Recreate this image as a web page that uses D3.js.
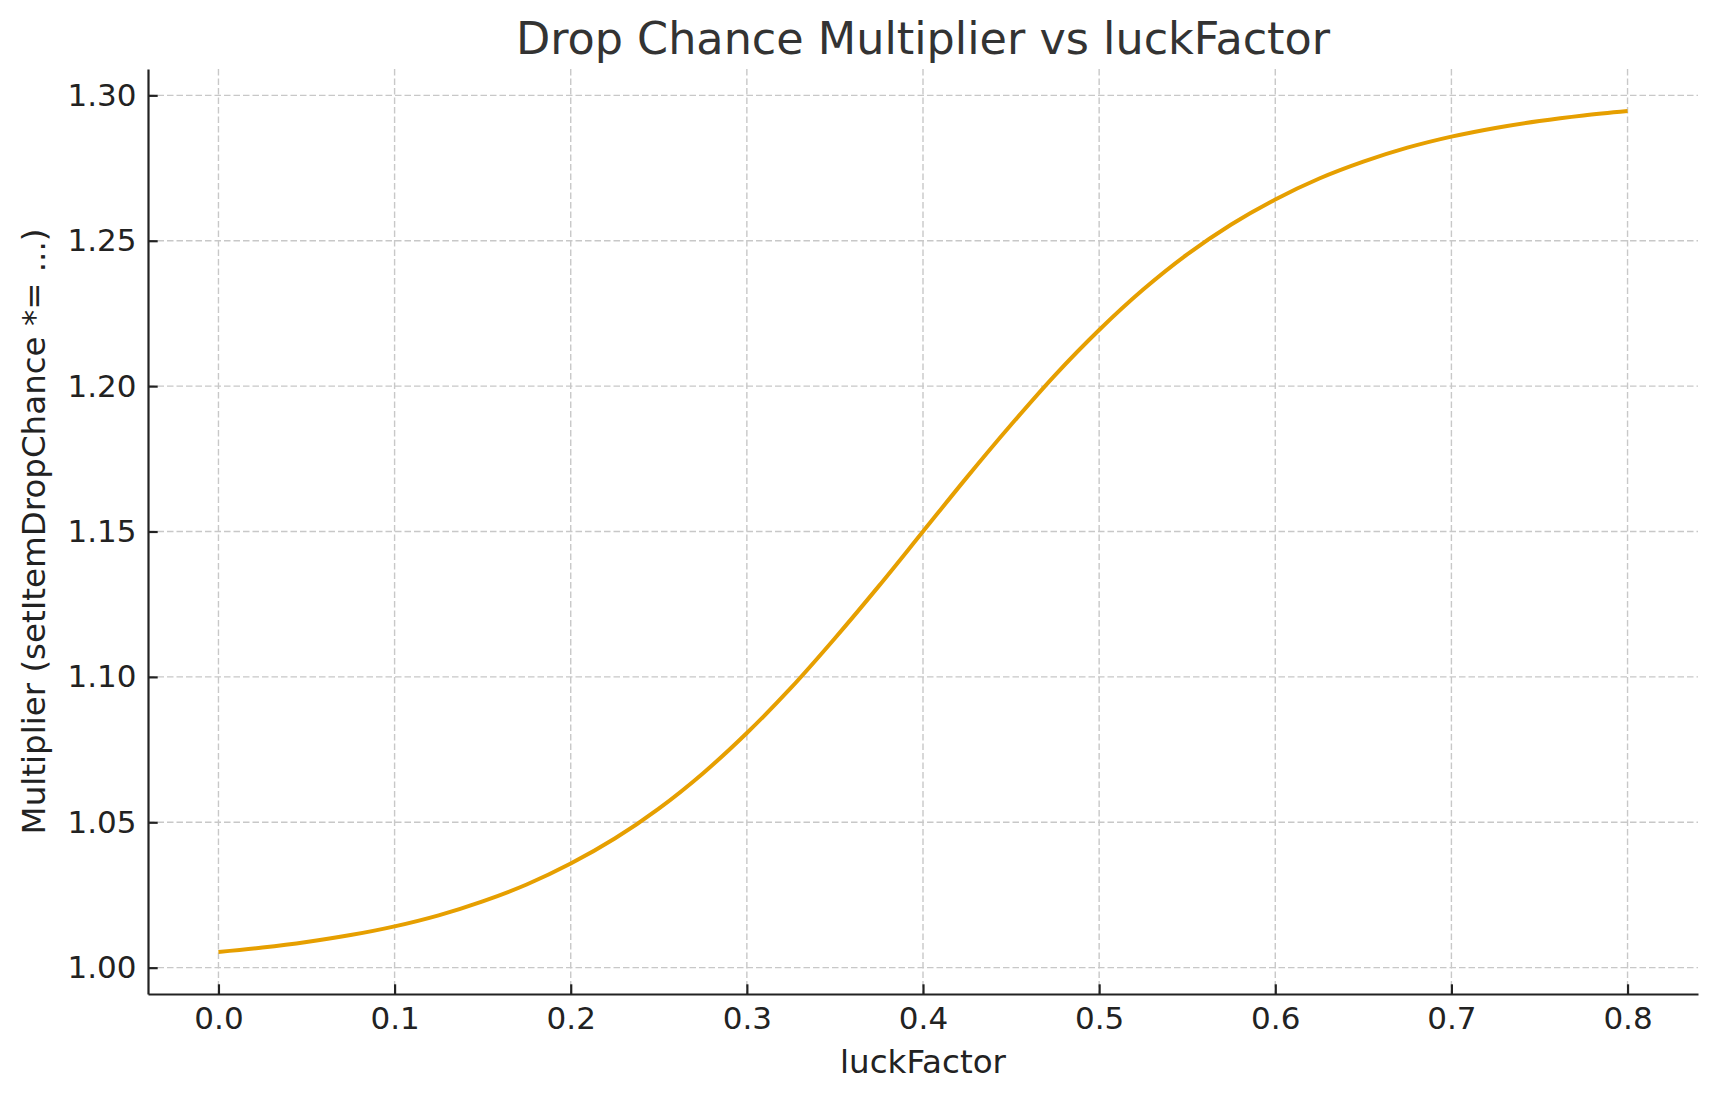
<!DOCTYPE html>
<html>
<head>
<meta charset="utf-8">
<script src="https://cdn.jsdelivr.net/npm/d3@7"></script>
<style>
  body { margin: 0; background: #fff; }
  svg text { font-family: "DejaVu Sans", sans-serif; }
</style>
</head>
<body>
<svg id="chart"></svg>
<script>
// values
var luckFactor = [0, 0.025, 0.05, 0.075, 0.1, 0.125, 0.15, 0.175, 0.2, 0.225, 0.25, 0.275,
  0.3, 0.325, 0.35, 0.375, 0.4, 0.425, 0.45, 0.475, 0.5, 0.525, 0.55, 0.575,
  0.6, 0.625, 0.65, 0.675, 0.7, 0.725, 0.75, 0.775, 0.8];
var multiplier = [1.0054, 1.0069, 1.0088, 1.0112, 1.0142, 1.0180, 1.0228, 1.0286, 1.0358, 1.0444, 1.0547, 1.0668,
  1.0807, 1.0962, 1.1133, 1.1313, 1.1500, 1.1687, 1.1867, 1.2038, 1.2193, 1.2332, 1.2453, 1.2556,
  1.2642, 1.2714, 1.2772, 1.2820, 1.2858, 1.2888, 1.2912, 1.2931, 1.2946];
var xTicks = [0.0, 0.1, 0.2, 0.3, 0.4, 0.5, 0.6, 0.7, 0.8];
var yTicks = [1.00, 1.05, 1.10, 1.15, 1.20, 1.25, 1.30];

var width = 1718, height = 1101;
var margin = {top: 69, right: 20, bottom: 107, left: 148};
var w = width - margin.left - margin.right,
    h = height - margin.top - margin.bottom;

var svg = d3.select("#chart").attr("width", width).attr("height", height);
var g = svg.append("g").attr("transform", "translate(" + margin.left + "," + margin.top + ")");

var x = d3.scaleLinear().domain([-0.04, 0.84]).range([0, w]);
var y = d3.scaleLinear().domain([0.99094, 1.30906]).range([h, 0]);

// grid
g.append("g").selectAll("line").data(xTicks).enter().append("line")
  .attr("x1", function(d){ return x(d); }).attr("x2", function(d){ return x(d); })
  .attr("y1", 0).attr("y2", h)
  .attr("stroke", "#c8c8c8").attr("stroke-width", 1.4).attr("stroke-dasharray", "6.5,3");
g.append("g").selectAll("line").data(yTicks).enter().append("line")
  .attr("y1", function(d){ return y(d); }).attr("y2", function(d){ return y(d); })
  .attr("x1", 0).attr("x2", w)
  .attr("stroke", "#c8c8c8").attr("stroke-width", 1.4).attr("stroke-dasharray", "6.5,3");

// line
var line = d3.line()
  .x(function(d, i){ return x(luckFactor[i]); })
  .y(function(d){ return y(d); })
  .curve(d3.curveCatmullRom);
g.append("path").datum(multiplier)
  .attr("d", line)
  .attr("fill", "none")
  .attr("stroke", "#E69F00")
  .attr("stroke-width", 4);

// axes, ticks pointing inward
var xAxis = d3.axisBottom(x).tickValues(xTicks).tickFormat(d3.format(".1f"))
  .tickSizeInner(-9.7).tickSizeOuter(0).tickPadding(13);
var yAxis = d3.axisLeft(y).tickValues(yTicks).tickFormat(d3.format(".2f"))
  .tickSizeInner(-9.7).tickSizeOuter(0).tickPadding(11.5);

var gx = g.append("g").attr("transform", "translate(0," + h + ")").call(xAxis);
var gy = g.append("g").call(yAxis);
[gx, gy].forEach(function(a){
  a.select(".domain").attr("stroke", "#222").attr("stroke-width", 2.2);
  a.selectAll(".tick line").attr("stroke", "#222").attr("stroke-width", 2.2);
  a.selectAll(".tick text").attr("fill", "#222").style("font-size", "31px")
    .style("font-family", "DejaVu Sans");
});
gx.selectAll(".tick text").attr("dy", "0.71em");

// title and labels
svg.append("text")
  .attr("x", margin.left + w / 2).attr("y", 54)
  .attr("text-anchor", "middle")
  .attr("fill", "#333")
  .style("font-size", "44.5px")
  .text("Drop Chance Multiplier vs luckFactor");

svg.append("text")
  .attr("x", margin.left + w / 2).attr("y", 1073)
  .attr("text-anchor", "middle")
  .attr("fill", "#222")
  .style("font-size", "32.5px")
  .text("luckFactor");

svg.append("text")
  .attr("transform", "translate(45," + (margin.top + h / 2) + ") rotate(-90)")
  .attr("text-anchor", "middle")
  .attr("fill", "#222")
  .style("font-size", "32.5px")
  .text("Multiplier (setItemDropChance *= ...)");
</script>
</body>
</html>
